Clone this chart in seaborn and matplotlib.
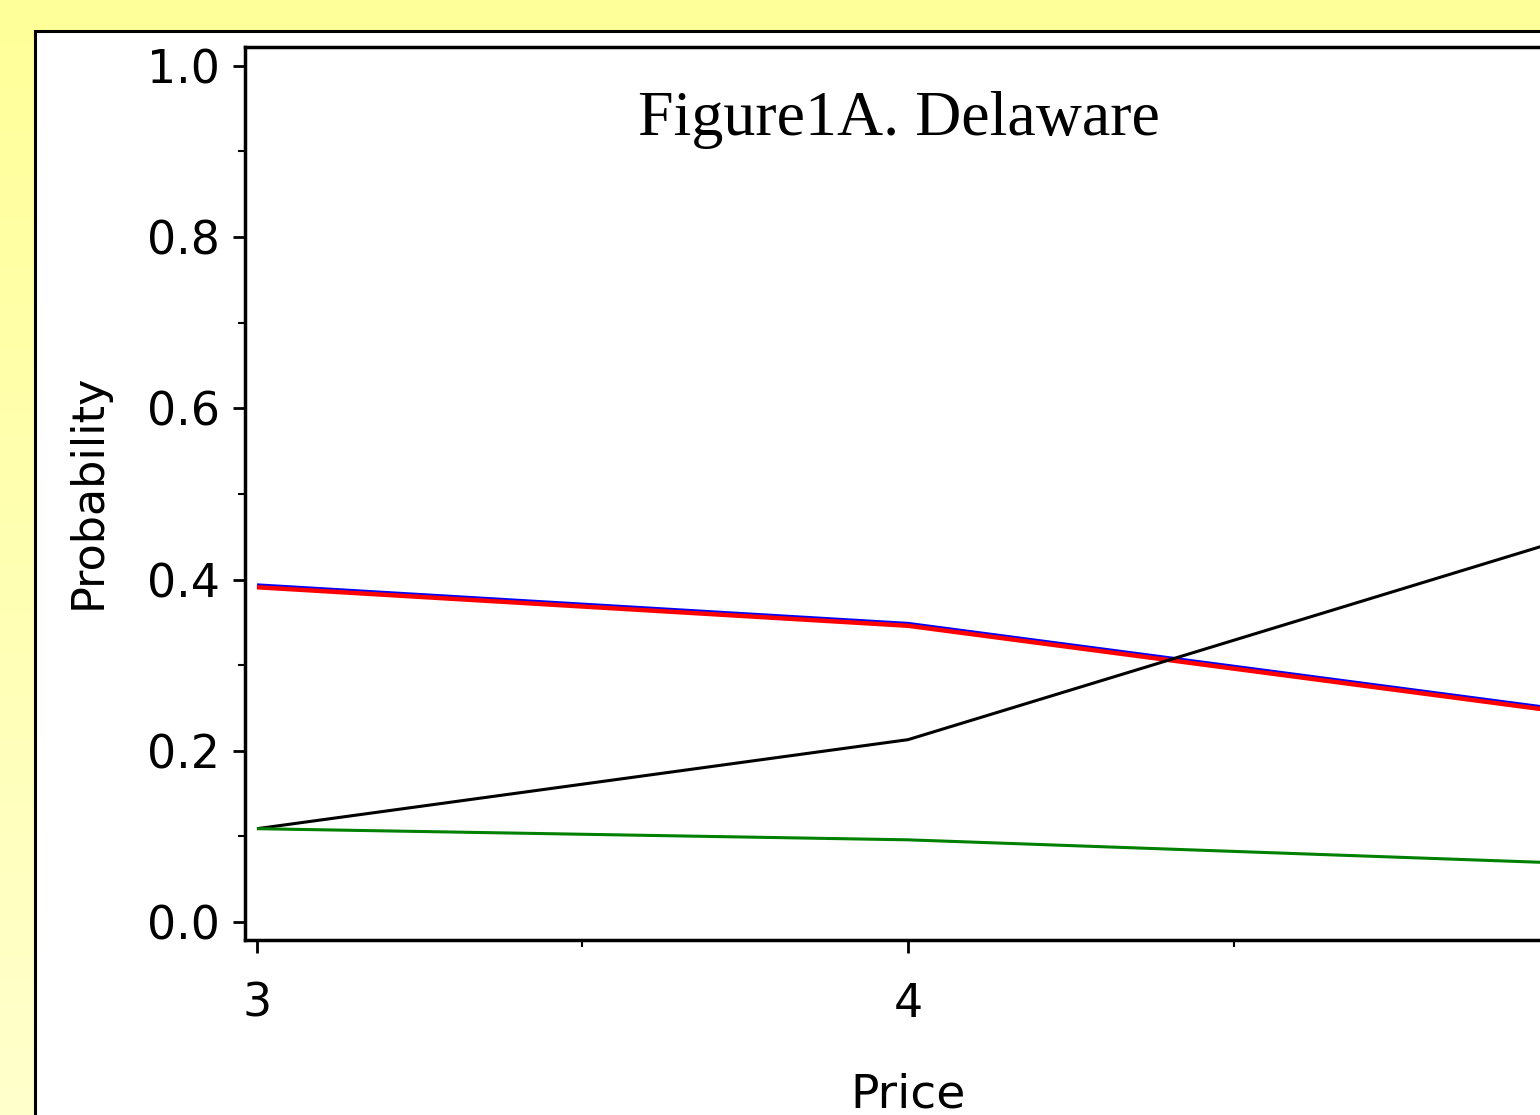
import numpy as np
import pandas as pd
import seaborn as sns
import matplotlib
matplotlib.use("Agg")
import matplotlib.pyplot as plt
from matplotlib.patches import Rectangle
from matplotlib.ticker import AutoMinorLocator

# ---- data ----
price = [3, 4, 5]
series_blue = [0.393, 0.348, 0.248]
series_red = [0.391, 0.346, 0.246]
series_black = [0.109, 0.213, 0.445]
series_green = [0.109, 0.096, 0.069]
series_names = ["Series A", "Series B", "Series C", "Series D"]
series_colors = ["#0000ff", "#ff0000", "#000000", "#008000"]
series_widths = [3.2, 3.2, 2.2, 2.2]
yticks = [0.0, 0.2, 0.4, 0.6, 0.8, 1.0]
xticks = [3, 4, 5]
xtick_labels = ["3", "4", ""]
title_text = "Figure1A. Delaware"

df = pd.DataFrame({
    "Price": price * 4,
    "Probability": series_blue + series_red + series_black + series_green,
    "Series": sum([[n] * len(price) for n in series_names], []),
})

sns.set_theme(style="white")
plt.rcParams["font.family"] = ["DejaVu Sans"]

W, H = 1540, 1115
fig = plt.figure(figsize=(W / 100, H / 100), dpi=100)

# background gradient (yellow)
bg = fig.add_axes([0, 0, 1, 1], zorder=-10)
grad = np.linspace(0, 1, 256).reshape(-1, 1)
top = np.array([1.0, 1.0, 0.60])
bot = np.array([1.0, 1.0, 0.80])
img = top[None, None, :] * (1 - grad[:, :, None]) + bot[None, None, :] * grad[:, :, None]
bg.imshow(img, aspect="auto", extent=[0, 1, 0, 1], origin="upper")
bg.set_axis_off()

# white panel with black border
fig.patches.append(Rectangle((35 / W, -0.02), 1.2, (H - 31) / H + 0.02,
                             transform=fig.transFigure, facecolor="white",
                             edgecolor="black", linewidth=2.2, zorder=-5))

left_px, right_px, top_px, bot_px = 245, 1571, 47, 940
ax = fig.add_axes([left_px / W, (H - bot_px) / H,
                   (right_px - left_px) / W, (bot_px - top_px) / H])
ax.set_facecolor("white")

palette = dict(zip(series_names, series_colors))
sns.lineplot(data=df, x="Price", y="Probability", hue="Series",
             palette=palette, hue_order=series_names, legend=False, ax=ax,
             estimator=None, sort=False)
for line, lw in zip(ax.get_lines(), series_widths):
    line.set_linewidth(lw)
    line.set_solid_capstyle("butt")

ax.set_xlim(3 - 0.0184, 5 + 0.0184)
ax.set_ylim(-0.021, 1.022)
ax.set_xticks(xticks)
ax.set_xticklabels(xtick_labels)
ax.set_yticks(yticks)
ax.set_yticklabels([f"{v:.1f}" for v in yticks])
ax.xaxis.set_minor_locator(AutoMinorLocator(2))
ax.yaxis.set_minor_locator(AutoMinorLocator(2))

for s in ax.spines.values():
    s.set_color("black")
    s.set_linewidth(2.5)
    s.set_visible(True)

ax.tick_params(axis="both", which="major", length=9, width=2, color="black",
               labelsize=33, labelcolor="black", direction="out",
               bottom=True, left=True, top=False, right=False)
ax.tick_params(axis="both", which="minor", length=5, width=1.5, color="black",
               direction="out", bottom=True, left=True, top=False, right=False)
ax.tick_params(axis="x", which="major", pad=21)
ax.tick_params(axis="y", which="major", pad=9)

ax.set_xlabel("Price", fontsize=34, color="black", va="center", ha="center")
ax.set_ylabel("Probability", fontsize=32, color="black", va="center", ha="center")
ax.xaxis.set_label_coords(0.5, -(1095 - bot_px) / (bot_px - top_px))
ax.yaxis.set_label_coords((88 - left_px) / (right_px - left_px), 0.502)

ax.text((899 - left_px) / (right_px - left_px), (bot_px - 135) / (bot_px - top_px),
        title_text, transform=ax.transAxes, ha="center", va="baseline",
        fontsize=46, family=["Liberation Serif", "DejaVu Serif"], color="black")

fig.savefig("out.png", dpi=100)
